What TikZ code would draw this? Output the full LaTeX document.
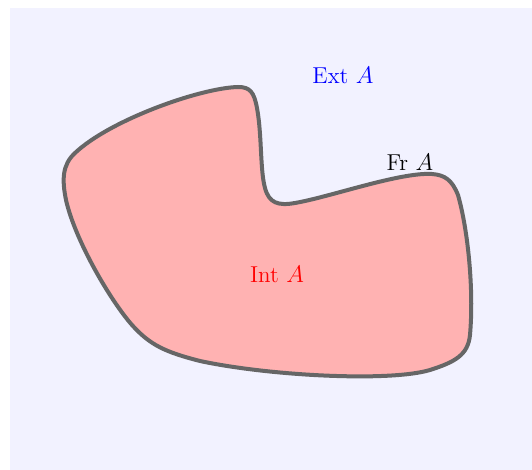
\documentclass[tikz,border=0pt]{standalone}
\begin{document}
\begin{tikzpicture}[x=0.5pt,y=-0.5pt,
  region/.style={fill=red!30,draw=black!60,line width=2pt,line join=round},
  lbl/.style={font=\fontsize{11.5}{13}\selectfont,inner sep=0pt}]
\useasboundingbox (0,0) rectangle (532,470);
\fill[blue!5] (10,8) rectangle (532,470);
\draw[region] (66,200) .. controls (62,180) and (62,165) .. (75,153)
  .. controls (110,120) and (200,88) .. (238,87)
  .. controls (250,87) and (254,92) .. (257,108)
  .. controls (262,135) and (260,170) .. (265,188)
  .. controls (269,203) and (278,206) .. (295,203)
  .. controls (330,197) and (400,172) .. (432,174)
  .. controls (445,175) and (452,180) .. (458,195)
  .. controls (468,230) and (474,290) .. (470,335)
  .. controls (468,355) and (455,362) .. (430,370)
  .. controls (390,382) and (270,376) .. (200,361)
  .. controls (165,352) and (150,345) .. (132,325)
  .. controls (110,300) and (75,240) .. (66,200) -- cycle;
\node[lbl,text=blue] (ext) at (343,75) {Ext $A$};
\node[lbl] (fr) at (410,162) {Fr $A$};
\node[lbl,text=red] (int) at (277,274) {Int $A$};
\end{tikzpicture}
\end{document}
